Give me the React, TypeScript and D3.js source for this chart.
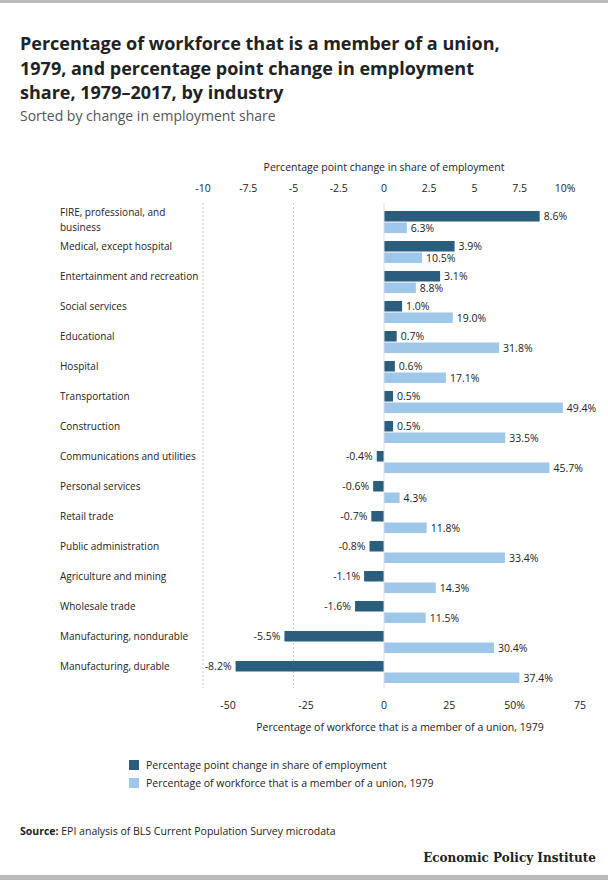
import React from 'react';
import * as d3 from 'd3';

const industries = [
  'FIRE, professional, and business', 'Medical, except hospital', 'Entertainment and recreation',
  'Social services', 'Educational', 'Hospital', 'Transportation', 'Construction',
  'Communications and utilities', 'Personal services', 'Retail trade', 'Public administration',
  'Agriculture and mining', 'Wholesale trade', 'Manufacturing, nondurable', 'Manufacturing, durable',
];
const shareChange = [8.6, 3.9, 3.1, 1.0, 0.7, 0.6, 0.5, 0.5, -0.4, -0.6, -0.7, -0.8, -1.1, -1.6, -5.5, -8.2];
const unionShare = [6.3, 10.5, 8.8, 19.0, 31.8, 17.1, 49.4, 33.5, 45.7, 4.3, 11.8, 33.4, 14.3, 11.5, 30.4, 37.4];
const topTicks = [-10, -7.5, -5, -2.5, 0, 2.5, 5, 7.5, 10];
const bottomTicks = ['-50', '-25', '0', '25', '50%', '75'];
const titleLines = [
  'Percentage of workforce that is a member of a union,',
  '1979, and percentage point change in employment',
  'share, 1979–2017, by industry',
];

const DARK = '#2a5d7e';
const LIGHT = '#9fc7e9';
const F = '"Open Sans", Lato, sans-serif';

export default function App() {
  const xTop = d3.scaleLinear().domain([-10, 10]).range([203, 565]);
  const xBot = d3.scaleLinear().domain([-50, 50]).range([203, 565]);
  // tick labels in the reference sit unevenly; a piecewise scale reproduces them
  const xBotLabel = d3.scaleLinear().domain([-50, 0, 75]).range([228, 384, 580]);
  const y = d3.scaleBand<string>().domain(industries).range([206, 686]);
  const bh = 10.5;

  const wrap = (s: string) => (s.length > 30 ? ['FIRE, professional, and', 'business'] : [s]);

  return (
    <svg width={608} height={880} style={{ position: 'absolute', left: 0, top: 0, background: '#fff' }} fontFamily={F}>
      <rect x={0} y={0} width={608} height={3} fill="#bbb" />
      {titleLines.map((l, i) => (
        <text key={i} x={20} y={50 + i * 24.5} fontSize={18} fontWeight={700} fill="#222">{l}</text>
      ))}
      <text x={20} y={121} fontSize={14} fill="#555">Sorted by change in employment share</text>

      <text x={384} y={171} fontSize={10.5} textAnchor="middle" fill="#222">Percentage point change in share of employment</text>
      {topTicks.map(t => (
        <text key={t} x={xTop(t)} y={192} fontSize={10.5} textAnchor="middle" fill="#222">
          {t === 10 ? '10%' : t}
        </text>
      ))}
      {[-10, -5].map(t => (
        <line key={t} x1={xTop(t)} x2={xTop(t)} y1={203} y2={688} stroke="#ccc" strokeDasharray="2,2" />
      ))}

      {industries.map((name, i) => {
        const y0 = y(name)!;
        const c = shareChange[i];
        const u = unionShare[i];
        const lines = wrap(name);
        return (
          <g key={name}>
            {lines.map((l, k) => (
              <text key={k} x={60} y={y0 + 12 + (lines.length > 1 ? k * 15 - 2 : 2)} fontSize={10}
                fill="#222">{l}</text>
            ))}
            <rect x={Math.min(xTop(c), xTop(0))} y={y0 + 5} width={Math.abs(xTop(c) - xTop(0))} height={bh} fill={DARK} />
            <rect x={xBot(0)} y={y0 + 5 + bh + 1} width={xBot(u) - xBot(0)} height={bh} fill={LIGHT} />
            <text x={c >= 0 ? xTop(c) + 4 : xTop(c) - 4} y={y0 + 14} fontSize={10.5}
              textAnchor={c >= 0 ? 'start' : 'end'} fill="#222">{c.toFixed(1)}%</text>
            <text x={xBot(u) + 4} y={y0 + 26} fontSize={10.5} fill="#222">{u.toFixed(1)}%</text>
          </g>
        );
      })}
      <line x1={xTop(0)} x2={xTop(0)} y1={203} y2={688} stroke="#ddd" />

      {bottomTicks.map(t => (
        <text key={t} x={xBotLabel(parseFloat(t))} y={709} fontSize={10.5} textAnchor="middle" fill="#222">{t}</text>
      ))}
      <text x={400} y={731} fontSize={10.5} textAnchor="middle" fill="#222">Percentage of workforce that is a member of a union, 1979</text>

      <rect x={129} y={760} width={10} height={10} fill={DARK} />
      <text x={146} y={769} fontSize={10.5} fill="#222">Percentage point change in share of employment</text>
      <rect x={129} y={778} width={10} height={10} fill={LIGHT} />
      <text x={146} y={787} fontSize={10.5} fill="#222">Percentage of workforce that is a member of a union, 1979</text>

      <text x={20} y={835} fontSize={10.5} fill="#222"><tspan fontWeight={700}>Source:</tspan> EPI analysis of BLS Current Population Survey microdata</text>
      <text x={596} y={862} fontSize={12} fontWeight={700} textAnchor="end" fill="#222" fontFamily='"DejaVu Serif", serif'>Economic Policy Institute</text>
      <rect x={0} y={875} width={608} height={5} fill="#bbb" />
    </svg>
  );
}
